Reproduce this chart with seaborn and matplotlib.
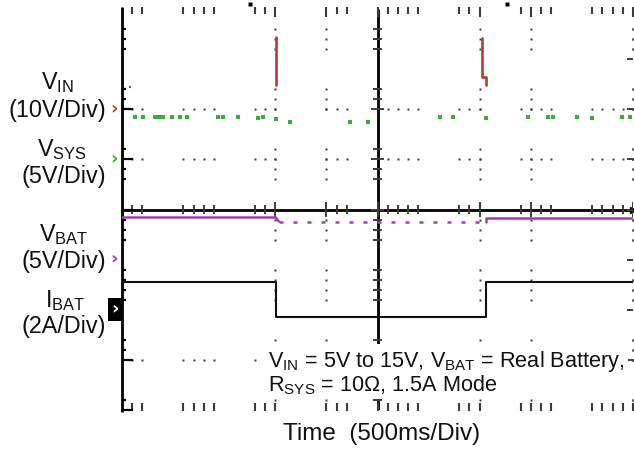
import matplotlib
matplotlib.use("Agg")
import matplotlib.pyplot as plt
import numpy as np
import pandas as pd
import seaborn as sns
from matplotlib.patches import Rectangle

# ---------------------------------------------------------------------------
# Scope settings: 10 x 8 divisions, 500 ms/div time base
# ---------------------------------------------------------------------------
TIME_PER_DIV = 0.5
N_XDIV, N_YDIV = 10, 8

# channel ground position (divisions from bottom) and scale per division
VIN_GND, VIN_DIV = 6.0, 10.0     # V/div
VSYS_GND, VSYS_DIV = 5.0, 5.0    # V/div
VBAT_GND, VBAT_DIV = 3.0, 5.0    # V/div
IBAT_GND, IBAT_DIV = 2.0, 2.0    # A/div

# ---------------------------------------------------------------------------
# Captured waveforms (time in seconds)
# ---------------------------------------------------------------------------
# VIN: only the 5 V -> 15 V -> 5 V switching edges survived in the capture
vin_t = [1.505, 1.505, 3.523, 3.523, 3.559, 3.559]
vin_v = [4.8, 14.5, 14.2, 6.4, 6.4, 4.8]
vin_edge = [1, 1, 2, 2, 2, 2]
vin_dot_t = [0.078]
vin_dot_v = [4.4]

# VSYS: sparse samples of the system rail
vsys_t = [0.127, 0.205, 0.323, 0.342, 0.372, 0.401, 0.489, 0.568, 0.636,
          0.939, 0.988, 1.135, 1.331, 1.380, 1.507, 1.644, 2.231, 2.407,
          3.112, 3.239, 3.562, 3.973, 4.168, 4.217, 4.452, 4.599, 4.892,
          4.971]
vsys_v = [4.2, 4.2, 4.2, 4.2, 4.2, 4.2, 4.2, 4.2, 4.2,
          4.2, 4.2, 4.2, 4.1, 4.2, 4.0, 3.75, 3.75, 3.75,
          4.2, 4.2, 4.1, 4.2, 4.2, 4.2, 4.2, 4.1, 4.2,
          4.2]

# VBAT: 4.2 V while charging, ~3.8 V while the input is in over-voltage
vbat_t = [0.0, 1.505, 1.535, 1.535, 3.56, 3.56, 3.56, 5.0]
vbat_v = [4.2, 4.2, 3.8, 3.8, 3.8, 3.8, 4.2, 4.2]
vbat_seg = [0, 0, 0, 1, 1, 2, 2, 2]
vbat_trace = ["solid", "solid", "solid", "dotted", "dotted",
              "solid", "solid", "solid"]

# IBAT: +1.1 A charge, -0.3 A discharge into the 10 ohm system load
ibat_t = [0.0, 1.505, 1.505, 3.56, 3.56, 5.0]
ibat_a = [1.1, 1.1, -0.3, -0.3, 1.1, 1.1]

# graticule marks left visible on the screen capture (minor-tick indices)
VIS_X = [1, 2, 6, 7, 8, 9, 13, 14, 15, 20, 21, 22, 25, 26, 27, 28, 29,
         33, 34, 35, 39, 40, 41, 42, 46, 47, 48, 49, 50]
VIS_Y = [2, 3, 4, 8, 9, 10, 14, 15, 16, 17, 20, 21, 22, 23, 26, 27, 28, 29,
         33, 34, 35, 39]

C_VIN = "#B23B3B"
C_VSYS = "#3DAA3D"
C_VBAT = "#A23DB0"
C_IBAT = "#111111"
C_GRID = "#3c3c3c"


def to_div(values, gnd, per_div):
    return [gnd + v / per_div for v in values]


sns.set_theme(style="white")
plt.rcParams["font.family"] = ["Liberation Sans", "DejaVu Sans"]
plt.rcParams["mathtext.fontset"] = "custom"
plt.rcParams["mathtext.rm"] = "Liberation Sans"
plt.rcParams["mathtext.default"] = "regular"

W, H = 634, 457
fig = plt.figure(figsize=(W / 100, H / 100), dpi=100)
fig.patch.set_facecolor("white")

# plot area in pixels
PX_L, PX_R, PX_T, PX_B = 122, 633, 9, 410
ax = fig.add_axes([PX_L / W, (H - PX_B) / H, (PX_R - PX_L) / W, (PX_B - PX_T) / H])
T_END = N_XDIV * TIME_PER_DIV
ax.set_xlim(0, T_END)
ax.set_ylim(0, N_YDIV)
ax.set_axis_off()

# ---------------------------------------------------------------------------
# Graticule
# ---------------------------------------------------------------------------
dx = TIME_PER_DIV / 5          # minor step in time
dy = 0.2                       # minor step in divisions
xk = np.array(VIS_X)
yk = np.array(VIS_Y)
x_minor = xk * dx
y_minor = N_YDIV - yk * dy

# dotted major lines
for k in VIS_X:
    if k % 5 == 0 and k not in (0, 25):
        ax.plot(np.full(len(y_minor), k * dx), y_minor, ls="none", marker="s",
                ms=1.9, color=C_GRID, mec="none", zorder=1, clip_on=False)
for k in VIS_Y:
    if k % 5 == 0 and k not in (0, 20, 40):
        ax.plot(x_minor, np.full(len(x_minor), N_YDIV - k * dy), ls="none",
                marker="s", ms=1.9, color=C_GRID, mec="none", zorder=1,
                clip_on=False)

# centre axes
xc, yc = T_END / 2, N_YDIV / 2
ax.plot([0, T_END], [yc, yc], color="black", lw=2.0, zorder=2,
        solid_capstyle="butt")
ax.plot([xc, xc], [0, N_YDIV], color="black", lw=2.0, zorder=2,
        solid_capstyle="butt")
ax.plot([T_END], [yc], marker=">", ms=5, color="black", clip_on=False,
        zorder=2)
for k in VIS_X:
    h = 0.15 if k % 5 == 0 else 0.09
    ax.plot([k * dx, k * dx], [yc - h, yc + h], color=C_GRID, lw=1.4,
            zorder=2, solid_capstyle="butt")
for k in VIS_Y:
    w = 0.06 if k % 5 == 0 else 0.04
    y = N_YDIV - k * dy
    ax.plot([xc - w, xc + w], [y, y], color=C_GRID, lw=1.4, zorder=2,
            solid_capstyle="butt")

# top and bottom edge ticks
for k in VIS_X:
    ln = 0.2 if k % 5 == 0 else 0.13
    ax.plot([k * dx, k * dx], [N_YDIV + 0.04, N_YDIV + 0.04 - ln],
            color=C_GRID, lw=1.5, zorder=2, clip_on=False,
            solid_capstyle="butt")
    ax.plot([k * dx, k * dx], [-0.02, 0.13], color=C_GRID, lw=1.5,
            zorder=2, clip_on=False, solid_capstyle="butt")

# left edge: solid line with inward ticks
ax.plot([0, 0], [-0.04, N_YDIV + 0.04], color="black", lw=2.0, zorder=2,
        clip_on=False, solid_capstyle="butt")
for k in VIS_Y + [40]:
    ln = 0.11 if k % 5 == 0 else 0.04
    y = N_YDIV - k * dy
    ax.plot([0, ln], [y, y], color="black", lw=1.6, zorder=2,
            clip_on=False, solid_capstyle="butt")

# right edge: dots plus short ticks on the major rows
ax.plot(np.full(len(y_minor), T_END), y_minor, ls="none", marker="s",
        ms=1.9, color=C_GRID, mec="none", zorder=1, clip_on=False)
for j in range(1, N_YDIV):
    ax.plot([T_END - 0.06, T_END], [j, j], color=C_GRID, lw=1.4, zorder=2,
            clip_on=False, solid_capstyle="butt")

# trigger / position markers above the screen
ax.plot([1.252, 3.767], [8.1, 8.1], ls="none", marker="s", ms=2.4,
        color="black", mec="none", clip_on=False)

# ---------------------------------------------------------------------------
# Traces
# ---------------------------------------------------------------------------
df_vin = pd.DataFrame({"t": vin_t, "y": to_div(vin_v, VIN_GND, VIN_DIV),
                       "edge": vin_edge})
sns.lineplot(data=df_vin, x="t", y="y", units="edge", estimator=None,
             sort=False, color=C_VIN, lw=1.9, ax=ax, legend=False, zorder=4)
sns.scatterplot(x=vin_dot_t, y=to_div(vin_dot_v, VIN_GND, VIN_DIV),
                color=C_VIN, marker="s", s=3, linewidth=0, ax=ax, zorder=4)

sns.scatterplot(x=vsys_t, y=to_div(vsys_v, VSYS_GND, VSYS_DIV),
                color=C_VSYS, marker="s", s=6, linewidth=0, ax=ax, zorder=4)

df_vbat = pd.DataFrame({"t": vbat_t, "y": to_div(vbat_v, VBAT_GND, VBAT_DIV),
                        "seg": vbat_seg, "trace": vbat_trace})
sns.lineplot(data=df_vbat, x="t", y="y", units="seg", style="trace",
             dashes={"solid": "", "dotted": (1.6, 4.0)}, estimator=None,
             sort=False, color=C_VBAT, lw=1.8, ax=ax, legend=False, zorder=4)

df_ibat = pd.DataFrame({"t": ibat_t, "y": to_div(ibat_a, IBAT_GND, IBAT_DIV)})
sns.lineplot(data=df_ibat, x="t", y="y", estimator=None, sort=False,
             color=C_IBAT, lw=1.5, ax=ax, legend=False, zorder=4)
ax.set_xlim(0, T_END)
ax.set_ylim(0, N_YDIV)

# ---------------------------------------------------------------------------
# Channel ground markers left of the screen
# ---------------------------------------------------------------------------
mx = -8 / ((PX_R - PX_L) / T_END)
for gnd, col in [(VIN_GND, C_VIN), (VSYS_GND, C_VSYS), (VBAT_GND, C_VBAT)]:
    ax.text(mx, gnd, "›", color=col, fontsize=13, fontweight="bold",
            ha="center", va="center", clip_on=False, family="DejaVu Sans")
ax.add_patch(Rectangle((108 / W, (H - 321) / H), 14 / W, 23 / H,
                       transform=fig.transFigure, facecolor="black",
                       edgecolor="none", clip_on=False, zorder=3))
fig.text(115 / W, (H - 309) / H, "›", color="white", fontsize=13,
         fontweight="bold", ha="center", va="center", family="DejaVu Sans")


# ---------------------------------------------------------------------------
# Labels
# ---------------------------------------------------------------------------
def fx(px):
    return px / W


def fy(py):
    return (H - py) / H


LAB = 16.8
channel_labels = [
    (r"$V_{IN}$", 57, 89.0, "(10V/Div)", 116.5),
    (r"$V_{SYS}$", 62, 156.0, "(5V/Div)", 182.7),
    (r"$V_{BAT}$", 64, 240.7, "(5V/Div)", 268.3),
    (r"$I_{BAT}$", 65.5, 306.7, "(2A/Div)", 333.3),
]
for name, cx, b1, scale, b2 in channel_labels:
    fig.text(fx(cx), fy(b1), name, fontsize=LAB, ha="center", va="baseline",
             color="#111111")
    fig.text(fx(106), fy(b2), scale, fontsize=LAB, ha="right",
             va="baseline", color="#111111")

# test conditions box
ax.add_patch(Rectangle((fx(263), fy(399)), (628 - 263) / W, (399 - 344) / H,
                       transform=fig.transFigure, facecolor="white",
                       edgecolor="none", clip_on=False, zorder=5))
ax.text(fx(268), fy(366.7),
        r"$V_{IN}$ = 5V to 15V, $V_{BAT}$ = Real Battery,",
        transform=fig.transFigure, fontsize=15.6, ha="left", va="baseline",
        color="#111111", zorder=6)
ax.text(fx(268), fy(391.7), r"$R_{SYS}$ = 10Ω, 1.5A Mode",
        transform=fig.transFigure, fontsize=15.6, ha="left", va="baseline",
        color="#111111", zorder=6)

fig.text(fx(382), fy(440), "Time  (500ms/Div)", fontsize=17.5, ha="center",
         va="baseline", color="#111111")

fig.savefig("out.png", dpi=100, facecolor="white")
